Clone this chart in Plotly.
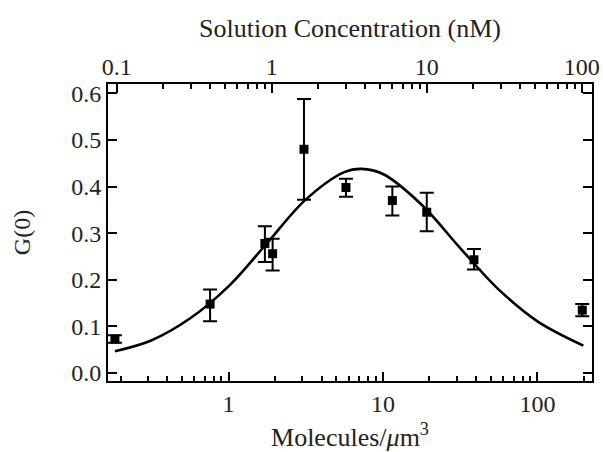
import plotly.graph_objects as go

# Measured G(0) versus number density
molecules = [0.184, 0.76, 1.72, 1.93, 3.08, 5.76, 11.5, 19.2, 38.8, 195]
g0 = [0.073, 0.148, 0.278, 0.256, 0.480, 0.398, 0.370, 0.345, 0.243, 0.135]
err_plus = [0.008, 0.031, 0.037, 0.032, 0.108, 0.019, 0.030, 0.042, 0.023, 0.013]
err_minus = [0.008, 0.037, 0.040, 0.036, 0.108, 0.020, 0.032, 0.041, 0.021, 0.013]

# Model curve
fit_x = [0.184, 0.316, 0.562, 1.0, 1.78, 3.16, 5.62, 7.28, 10.0, 17.8, 31.6, 56.2, 100, 198]
fit_g0 = [0.047, 0.070, 0.117, 0.186, 0.279, 0.372, 0.431, 0.438, 0.427, 0.361, 0.268, 0.179, 0.111, 0.059]

# Axis ticks
bottom_major = [1, 10, 100]
bottom_minor = [0.2, 0.3, 0.4, 0.5, 0.6, 0.7, 0.8, 0.9,
                2, 3, 4, 5, 6, 7, 8, 9,
                20, 30, 40, 50, 60, 70, 80, 90, 200]
top_major = [0.1, 1, 10, 100]
top_minor = [0.2, 0.3, 0.4, 0.5, 0.6, 0.7, 0.8, 0.9,
             2, 3, 4, 5, 6, 7, 8, 9,
             20, 30, 40, 50, 60, 70, 80, 90]
y_ticks = [0.0, 0.1, 0.2, 0.3, 0.4, 0.5, 0.6]

FONT = "Liberation Serif, Times New Roman, serif"
TICK_FONT = dict(family=FONT, size=24, color="#222")
TITLE_FONT = dict(family=FONT, size=26, color="#222")

fig = go.Figure()

fig.add_trace(go.Scatter(
    x=fit_x, y=fit_g0, mode="lines", line=dict(color="black", width=2.6, shape="spline"),
    hoverinfo="skip", showlegend=False,
))

fig.add_trace(go.Scatter(
    x=molecules, y=g0, mode="markers",
    marker=dict(symbol="square", size=9, color="black"),
    error_y=dict(type="data", symmetric=False, array=err_plus, arrayminus=err_minus,
                 color="black", thickness=2, width=7),
    showlegend=False,
))

# same points on the concentration axis (hidden) so the top axis is drawn
fig.add_trace(go.Scatter(x=molecules, y=g0, xaxis="x2", mode="markers",
                         marker=dict(opacity=0), showlegend=False, hoverinfo="skip"))

fig.update_layout(
    width=603, height=452,
    margin=dict(l=108, r=11, t=84, b=71),
    paper_bgcolor="white", plot_bgcolor="white",
    xaxis=dict(
        type="log", range=[-0.780, 2.353], automargin=False,
        tickvals=bottom_major, ticktext=[str(v) for v in bottom_major],
        ticks="inside", ticklen=9, tickwidth=2, tickcolor="black",
        minor=dict(tickvals=bottom_minor, ticks="inside", ticklen=5, tickwidth=2, tickcolor="black"),
        showline=True, linecolor="black", linewidth=2, mirror=False,
        showgrid=False, zeroline=False, tickfont=TICK_FONT,
        title=dict(text="Molecules/<i>μ</i>m<sup>3</sup>", font=TITLE_FONT, standoff=15),
    ),
    xaxis2=dict(
        type="log", range=[-1.056, 2.066], overlaying="x", side="top", anchor="y",
        automargin=False,
        tickvals=top_major, ticktext=["0.1", "1", "10", "100"],
        ticks="inside", ticklen=9, tickwidth=2, tickcolor="black",
        minor=dict(tickvals=top_minor, ticks="inside", ticklen=5, tickwidth=2, tickcolor="black"),
        showline=True, linecolor="black", linewidth=2,
        showgrid=False, zeroline=False, tickfont=TICK_FONT, ticklabelstandoff=-3,
        title=dict(text="Solution Concentration (nM)", font=TITLE_FONT, standoff=9),
    ),
    yaxis=dict(
        range=[-0.017, 0.620], automargin=False,
        tickvals=y_ticks, ticktext=[f"{v:.1f}" for v in y_ticks],
        ticks="inside", ticklen=9, tickwidth=2, tickcolor="black",
        showline=True, linecolor="black", linewidth=2, mirror="ticks",
        showgrid=False, zeroline=False, tickfont=TICK_FONT,
        title=dict(text="G(0)", font=dict(family=FONT, size=24, color="#222"), standoff=34),
    ),
)

fig.write_html("out.html")
